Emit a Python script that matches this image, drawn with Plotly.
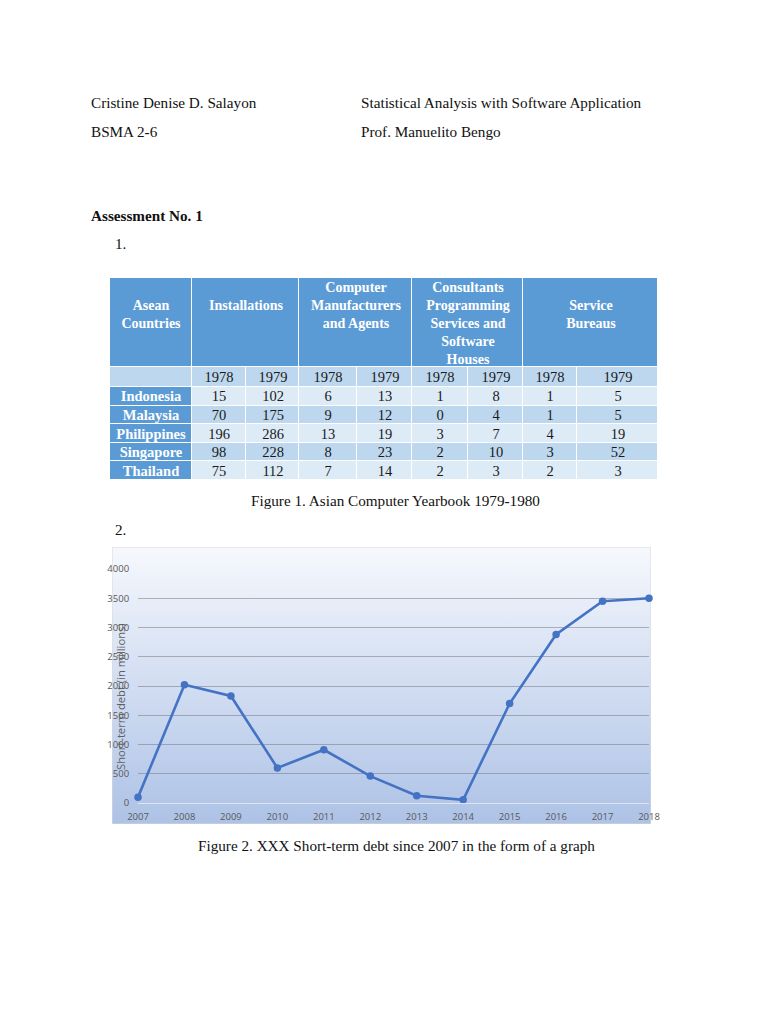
import plotly.graph_objects as go

# ------------------------
# Data
# ------------------------
COUNTRIES = ["Indonesia", "Malaysia", "Philippines", "Singapore", "Thailand"]
TABLE_YEARS = ["1978", "1979"]
HEADERS = ["Asean<br>Countries", "Installations",
           "Computer<br>Manufacturers<br>and Agents",
           "Consultants<br>Programming<br>Services and<br>Software<br>Houses",
           "Service<br>Bureaus"]

INSTALL_1978 = [15, 70, 196, 98, 75]
INSTALL_1979 = [102, 175, 286, 228, 112]
MANUF_1978 = [6, 9, 13, 8, 7]
MANUF_1979 = [13, 12, 19, 23, 14]
CONSULT_1978 = [1, 0, 3, 2, 2]
CONSULT_1979 = [8, 4, 7, 10, 3]
BUREAU_1978 = [1, 1, 4, 3, 2]
BUREAU_1979 = [5, 5, 19, 52, 3]

DEBT_YEARS = [2007, 2008, 2009, 2010, 2011, 2012, 2013, 2014, 2015, 2016, 2017, 2018]
DEBT = [100, 2020, 1830, 600, 910, 460, 125, 55, 1700, 2880, 3450, 3500]
DEBT_TICKS = [0, 500, 1000, 1500, 2000, 2500, 3000, 3500, 4000]

# ------------------------
# Style / page geometry (pixels on a 768x1024 page)
# ------------------------
W, H = 768, 1024
OFF = 8  # the page body margin shifts the figure by 8px
SERIF = "Liberation Serif"
SANS = "Open Sans"
DARK, MID, LIGHT = "#5b9bd5", "#bdd7ee", "#ddebf7"
SCALE = [[0, LIGHT], [0.5, MID], [1, DARK]]

COL_W = [82, 54, 53, 58, 55, 56, 55, 54, 81]
HEAD_H, YEAR_H, ROW_H = 89, 20, 18.6


def px(x):
    return (x - OFF) / W


def py(y):
    return 1 - (y - OFF) / H


def cumsum(start, vals):
    out = [start]
    for v in vals:
        out.append(out[-1] + v)
    return out


col_edges = cumsum(0, COL_W)
head_edges = [col_edges[0], col_edges[1], col_edges[3], col_edges[5], col_edges[7], col_edges[9]]
row_edges = cumsum(HEAD_H, [YEAR_H] + [ROW_H] * len(COUNTRIES))
table_w = col_edges[-1]
table_h = row_edges[-1]

fig = go.Figure()

# ------------------------
# Chart background (gradient box)
# ------------------------
fig.add_trace(go.Scatter(
    x=[0, 1, 1, 0, 0], y=[0, 0, 1, 1, 0],
    mode="lines", fill="toself",
    fillgradient=dict(type="vertical", colorscale=[[0, "#adc2e6"], [1, "#f6f8fd"]]),
    line=dict(color="#d9d9d9", width=1),
    hoverinfo="skip", showlegend=False,
    xaxis="x", yaxis="y",
))

# ------------------------
# Debt line chart
# ------------------------
fig.add_trace(go.Scatter(
    x=DEBT_YEARS, y=DEBT,
    mode="lines+markers",
    line=dict(color="#4472c4", width=2.6),
    marker=dict(color="#4472c4", size=7.5),
    cliponaxis=False, showlegend=False,
    xaxis="x2", yaxis="y2",
))

# ------------------------
# Table (heatmaps on their own axes)
# ------------------------
cols = [INSTALL_1978, INSTALL_1979, MANUF_1978, MANUF_1979,
        CONSULT_1978, CONSULT_1979, BUREAU_1978, BUREAU_1979]
n_val_cols = len(cols)
row_shade = [1 if i % 2 else 0 for i in range(len(COUNTRIES))]

# header row (merged group cells), padded with blank lines so text sits high
header_text = []
for h in HEADERS:
    n = h.count("<br>") + 1
    target = 5 if n >= 3 else 3
    header_text.append(h + "<br> " * (target - n))

fig.add_trace(go.Heatmap(
    z=[[2] * len(HEADERS)], x=head_edges, y=[0, HEAD_H],
    text=[header_text], texttemplate="%{text}",
    textfont=dict(family=SERIF, size=14, color="white", weight="bold"),
    zmin=0, zmax=2, colorscale=SCALE,
    showscale=False, xgap=1, ygap=1, hoverinfo="skip",
    xaxis="x3", yaxis="y3",
))

# first column: countries
fig.add_trace(go.Heatmap(
    z=[[1]] + [[2] for _ in COUNTRIES], x=col_edges[:2], y=row_edges,
    text=[[""]] + [[c] for c in COUNTRIES], texttemplate="%{text}",
    textfont=dict(family=SERIF, size=14.5, color="white", weight="bold"),
    zmin=0, zmax=2, colorscale=SCALE,
    showscale=False, xgap=1, ygap=1, hoverinfo="skip",
    xaxis="x3", yaxis="y3",
))

# year row + values
z_body = [[1] * n_val_cols] + [[row_shade[r]] * n_val_cols for r in range(len(COUNTRIES))]
t_body = [[TABLE_YEARS[c % 2] for c in range(n_val_cols)]]
t_body += [[str(cols[c][r]) for c in range(n_val_cols)] for r in range(len(COUNTRIES))]
fig.add_trace(go.Heatmap(
    z=z_body, x=col_edges[1:], y=row_edges,
    text=t_body, texttemplate="%{text}",
    textfont=dict(family=SERIF, size=14.5, color="#1a1a1a"),
    zmin=0, zmax=2, colorscale=SCALE,
    showscale=False, xgap=1, ygap=1, hoverinfo="skip",
    xaxis="x3", yaxis="y3",
))

# ------------------------
# Layout
# ------------------------
hidden = dict(visible=False, fixedrange=True, automargin=False)
fig.update_layout(
    width=W, height=H,
    margin=dict(l=0, r=0, t=0, b=0, pad=0, autoexpand=False),
    paper_bgcolor="white", plot_bgcolor="rgba(0,0,0,0)",
    showlegend=False,
    xaxis=dict(domain=[px(112), px(651)], range=[0, 1], anchor="y", **hidden),
    yaxis=dict(domain=[py(824), py(547)], range=[0, 1], anchor="x", **hidden),
    xaxis2=dict(
        domain=[px(138), px(649)], range=[2007, 2018], anchor="y2",
        tickvals=DEBT_YEARS, ticks="outside", ticklen=5,
        tickcolor="rgba(0,0,0,0)",
        tickfont=dict(family=SANS, size=9.5, color="#595959"),
        showgrid=False, zeroline=False, automargin=False,
        showline=True, linecolor="#dfe5ef", linewidth=1,
    ),
    yaxis2=dict(
        domain=[py(803), py(569)], range=[0, 4000], anchor="x2",
        tickvals=DEBT_TICKS, tickfont=dict(family=SANS, size=9.5, color="#595959"),
        ticks="outside", ticklen=6, tickcolor="rgba(0,0,0,0)",
        showgrid=True, gridcolor="rgba(110,115,125,0.5)", gridwidth=1,
        zeroline=False, automargin=False,
    ),
    xaxis3=dict(domain=[px(110), px(110 + table_w)], range=[0, table_w], anchor="y3", **hidden),
    yaxis3=dict(domain=[py(278 + table_h), py(278)], range=[table_h, 0], anchor="x3", **hidden),
)

# ------------------------
# Page text
# ------------------------
texts = [
    ("Cristine Denise D. Salayon", 89, 102, "left", False),
    ("Statistical Analysis with Software Application", 359, 102, "left", False),
    ("BSMA 2-6", 89, 131, "left", False),
    ("Prof. Manuelito Bengo", 359, 131, "left", False),
    ("Assessment No. 1", 89, 215, "left", True),
    ("1.", 113, 243, "left", False),
    ("Figure 1. Asian Computer Yearbook 1979-1980", 395, 500, "center", False),
    ("2.", 113, 529, "left", False),
    ("Figure 2. XXX Short-term debt since 2007 in the form of a graph", 396, 845, "center", False),
]
for t, x, y, anchor, bold in texts:
    fig.add_annotation(
        text=f"<b>{t}</b>" if bold else t,
        x=px(x), y=py(y), xref="paper", yref="paper",
        xanchor=anchor, yanchor="middle", showarrow=False,
        font=dict(family=SERIF, size=15.2, color="#111111"),
    )

fig.add_annotation(
    text="Short-term debt (in millions)",
    x=px(120), y=py(697), xref="paper", yref="paper",
    xanchor="center", yanchor="middle",
    textangle=-90, showarrow=False,
    font=dict(family=SANS, size=11.2, color="#5f5f5f"),
)

fig.write_html("out.html")
